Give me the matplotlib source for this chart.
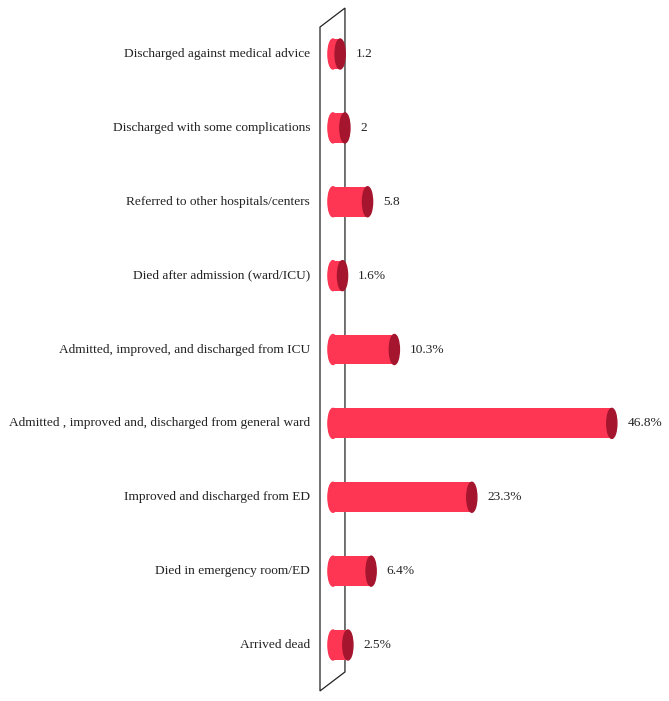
import matplotlib.pyplot as plt
from matplotlib.patches import Ellipse, Polygon

# bottom to top
categories = [
    "Arrived dead",
    "Died in emergency room/ED",
    "Improved and discharged from ED",
    "Admitted , improved and, discharged from general ward",
    "Admitted, improved, and discharged from ICU",
    "Died after admission (ward/ICU)",
    "Referred to other hospitals/centers",
    "Discharged with some complications",
    "Discharged against medical advice",
]
values = [2.5, 6.4, 23.3, 46.8, 10.3, 1.6, 5.8, 2.0, 1.2]
value_labels = ["2.5%", "6.4%", "23.3%", "46.8%", "10.3%", "1.6%", "5.8", "2", "1.2"]

bar_color = "#FE3553"
cap_color = "#A5152E"

fig = plt.figure(figsize=(6.69, 7.01), dpi=100)
ax = fig.add_axes([320 / 669, 0, 349 / 669, 1])
ax.set_xlim(-2.18, 56.4)
ax.set_ylim(-0.758, 8.731)
ax.axis("off")

h = 0.406       # bar thickness in category units
cap_w = 1.7     # ellipse width in value units

# back wall
wall = Polygon(
    [(-2.18, 8.365), (2.01, 8.622), (2.01, -0.365), (-2.18, -0.622)],
    closed=True, facecolor="none", edgecolor="#222222", lw=0.9, zorder=1,
    clip_on=False,
)
ax.add_patch(wall)

for i, (v, lab, cat) in enumerate(zip(values, value_labels, categories)):
    ax.barh(i, v, height=h, left=0, color=bar_color, zorder=2)
    ax.add_patch(Ellipse((0, i), cap_w, h, color=bar_color, zorder=2))
    ax.add_patch(Ellipse((v, i), cap_w, h, color=cap_color, zorder=3))
    ax.text(v + 2.6, i, lab, va="center", ha="left",
            family="Liberation Serif", fontsize=9.6, color="#222222")
    ax.text(-3.85, i, cat, va="center", ha="right",
            family="Liberation Serif", fontsize=9.6, color="#222222",
            clip_on=False)

fig.savefig("out.png", dpi=100)
